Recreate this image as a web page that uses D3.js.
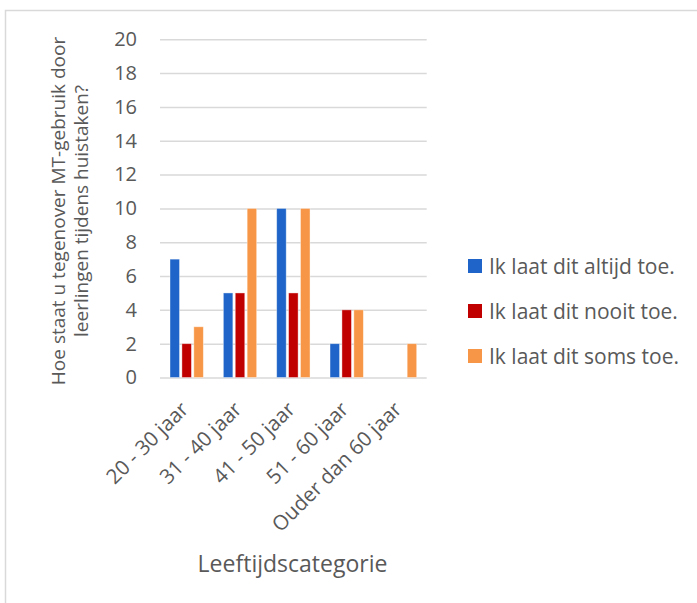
<!DOCTYPE html>
<html>
<head>
<meta charset="utf-8">
<script src="https://cdn.jsdelivr.net/npm/d3@7"></script>
<style>
  html, body { margin: 0; padding: 0; background: #fff; }
  svg { display: block; font-family: "Open Sans", "Noto Sans", sans-serif; }
</style>
</head>
<body>
<svg id="chart" width="697" height="603"></svg>
<script>
// Age categories on the x axis
const categories = ["20 - 30 jaar", "31 - 40 jaar", "41 - 50 jaar", "51 - 60 jaar", "Ouder dan 60 jaar"];
// Answer series and their counts per category
const seriesNames = ["Ik laat dit altijd toe.", "Ik laat dit nooit toe.", "Ik laat dit soms toe."];
const altijd = [7, 5, 10, 2, 0];
const nooit  = [2, 5, 5, 4, 0];
const soms   = [3, 10, 10, 4, 2];
const seriesColors = ["#1f64c8", "#c00000", "#f79646"];
const yTicks = [0, 2, 4, 6, 8, 10, 12, 14, 16, 18, 20];

const seriesValues = [altijd, nooit, soms];
const textColor = "#595959";
const gridColor = "#d9d9d9";

const svg = d3.select("#chart");

// outer chart frame
svg.append("rect")
  .attr("x", 5.5).attr("y", 10.5)
  .attr("width", 800).attr("height", 700)
  .attr("fill", "none").attr("stroke", gridColor).attr("stroke-width", 1.5);

const plot = { left: 160, right: 426.7, top: 39.3, bottom: 377.5 };

const y = d3.scaleLinear().domain([0, 20]).range([plot.bottom, plot.top]);
const x0 = d3.scaleBand().domain(categories).range([plot.left, plot.right])
  .paddingInner(0.375).paddingOuter(0.1875);
const x1 = d3.scaleBand().domain(d3.range(seriesNames.length)).range([0, x0.bandwidth()])
  .paddingInner(0.2).paddingOuter(0);

// horizontal gridlines and value labels
const yAxis = d3.axisLeft(y).tickValues(yTicks).tickSize(-(plot.right - plot.left)).tickPadding(23);
const yg = svg.append("g").attr("transform", `translate(${plot.left},0)`).call(yAxis);
yg.select(".domain").remove();
yg.selectAll(".tick line").attr("stroke", gridColor).attr("stroke-width", 1.5);
yg.selectAll(".tick text").attr("fill", textColor).attr("font-size", 20)
  .attr("font-family", "Open Sans, sans-serif");

// grouped bars
const groups = svg.append("g").selectAll("g")
  .data(categories)
  .join("g")
  .attr("transform", d => `translate(${x0(d)},0)`);

groups.selectAll("rect")
  .data((d, ci) => seriesValues.map((vals, si) => ({ si, v: vals[ci] })))
  .join("rect")
  .filter(d => d.v > 0)
  .attr("x", d => x1(d.si))
  .attr("width", x1.bandwidth())
  .attr("y", d => y(d.v))
  .attr("height", d => y(0) - y(d.v))
  .attr("fill", d => seriesColors[d.si])
  .attr("stroke", "#ffffff").attr("stroke-opacity", 0.5).attr("stroke-width", 0.8);

// rotated category labels
const xAxis = d3.axisBottom(x0).tickSize(0).tickPadding(0);
const xg = svg.append("g").attr("transform", `translate(0,${plot.bottom})`).call(xAxis);
xg.select(".domain").remove();
xg.selectAll(".tick text")
  .attr("fill", textColor).attr("font-size", 20.5)
  .attr("font-family", "Open Sans, sans-serif")
  .attr("text-anchor", "end")
  .attr("y", 0).attr("dy", 0)
  .attr("transform", "translate(3,33) rotate(-45)");

// axis titles
svg.append("text")
  .attr("transform", "rotate(-90)")
  .attr("fill", textColor).attr("font-size", 19).attr("text-anchor", "middle")
  .selectAll("tspan")
  .data(["Hoe staat u tegenover MT-gebruik door", "leerlingen tijdens huistaken?"])
  .join("tspan")
  .attr("x", -211)
  .attr("y", (d, i) => 65 + i * 23)
  .text(d => d);

svg.append("text")
  .attr("x", 292.5).attr("y", 572)
  .attr("fill", textColor).attr("font-size", 23).attr("text-anchor", "middle")
  .text("Leeftijdscategorie");

// legend
const legend = svg.append("g").selectAll("g")
  .data(seriesNames)
  .join("g")
  .attr("transform", (d, i) => `translate(468,${259 + i * 45})`);
legend.append("rect").attr("width", 14).attr("height", 14)
  .attr("fill", (d, i) => seriesColors[i]);
legend.append("text").attr("x", 21).attr("y", 14.5)
  .attr("fill", textColor).attr("font-size", 21)
  .text(d => d);
</script>
</body>
</html>
